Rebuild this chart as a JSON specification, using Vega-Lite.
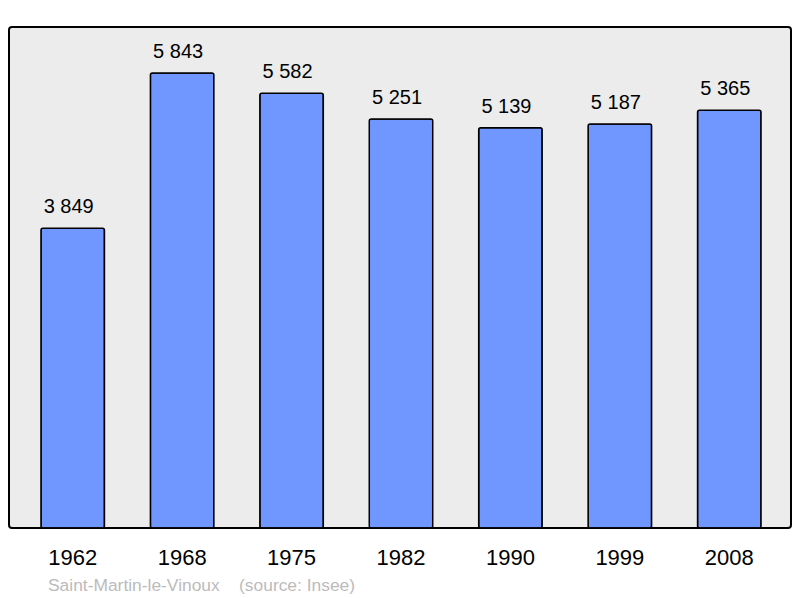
{
  "$schema": "https://vega.github.io/schema/vega-lite/v6.json",
  "width": 782,
  "height": 501,
  "autosize": "none",
  "padding": {"left": 9, "top": 27, "right": 9, "bottom": 70},
  "background": "white",
  "config": {
    "locale": {"number": {"decimal": ",", "thousands": " ", "grouping": [3], "currency": ["", " €"]}},
    "view": {"fill": "#ececec", "stroke": "#000000", "strokeWidth": 2, "cornerRadius": 3},
    "font": "Liberation Sans"
  },
  "title": {
    "text": "Saint-Martin-le-Vinoux\u00a0\u00a0\u00a0\u00a0(source: Insee)",
    "orient": "bottom",
    "anchor": "start",
    "offset": 9,
    "dx": 39,
    "fontSize": 17.4,
    "fontWeight": "normal",
    "color": "#bbbbbb",
    "font": "Liberation Sans"
  },
  "data": {
    "values": [
      {"year": "1962", "pop": 3849},
      {"year": "1968", "pop": 5843},
      {"year": "1975", "pop": 5582},
      {"year": "1982", "pop": 5251},
      {"year": "1990", "pop": 5139},
      {"year": "1999", "pop": 5187},
      {"year": "2008", "pop": 5365}
    ]
  },
  "encoding": {
    "x": {
      "field": "year",
      "type": "ordinal",
      "scale": {"range": [9, 775], "paddingInner": 0.42, "paddingOuter": 0.21},
      "axis": {
        "title": null,
        "domain": false,
        "ticks": false,
        "labelAngle": 0,
        "labelFontSize": 22,
        "labelColor": "#000000",
        "labelPadding": 19,
        "labelFont": "Liberation Sans"
      }
    },
    "y": {
      "field": "pop",
      "type": "quantitative",
      "scale": {"domain": [0, 6434], "nice": false},
      "axis": null
    }
  },
  "layer": [
    {
      "mark": {"type": "bar", "fill": "#7096ff", "stroke": "#000000", "strokeWidth": 1.5, "cornerRadius": 2}
    },
    {
      "mark": {"type": "text", "baseline": "alphabetic", "dy": -15, "dx": -4, "fontSize": 20, "color": "#000000", "font": "Liberation Sans"},
      "encoding": {"text": {"field": "pop", "type": "quantitative", "format": ",d"}}
    }
  ]
}
